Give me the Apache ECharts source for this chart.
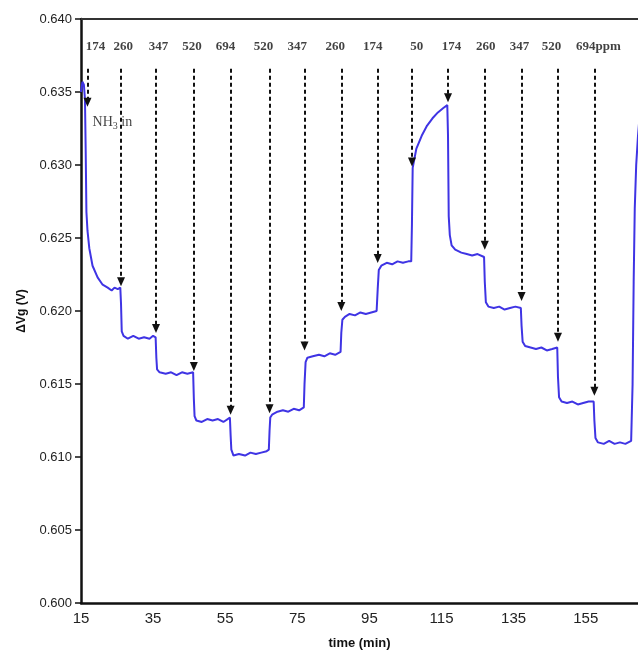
<!DOCTYPE html>
<html>
<head>
<meta charset="utf-8">
<script src="https://cdn.jsdelivr.net/npm/echarts@6/dist/echarts.min.js"></script>
<style>html,body{margin:0;padding:0;background:#fff}#c{width:638px;height:653px}</style>
</head>
<body>
<div id="c"></div>
<script>
// ---- data ----
const timeMin = [15.0,15.4,15.8,16.1,16.3,16.5,16.8,17.3,18.2,19.6,21.0,22.4,23.5,24.3,25.2,25.9,
26.1,26.3,26.8,28.0,29.5,31.0,32.5,34.0,35.0,35.7,
35.9,36.1,36.8,38.5,40.0,41.5,43.0,44.5,46.1,
46.3,46.5,47.0,48.5,50.0,51.5,53.0,54.5,56.3,
56.5,56.7,57.3,58.8,60.5,62.0,63.5,65.0,66.5,67.1,
67.3,67.5,68.0,69.5,71.0,72.5,74.0,75.5,76.8,
77.0,77.3,77.8,79.3,81.0,82.5,84.0,85.5,87.0,
87.2,87.5,88.2,89.5,91.0,92.5,94.0,95.5,97.0,
97.3,97.6,98.3,99.8,101.3,102.8,104.3,105.8,106.6,
106.8,107.0,108.0,109.5,111.0,112.5,114.0,115.5,116.6,
116.8,117.0,117.3,117.8,118.8,120.5,122.0,123.5,125.0,126.8,
127.0,127.3,128.0,129.5,131.0,132.5,134.0,135.5,137.0,
137.2,137.5,138.2,139.7,141.2,142.7,144.2,145.7,147.1,
147.3,147.6,148.3,149.8,151.3,152.8,154.3,155.8,157.2,
157.4,157.7,158.4,160.0,161.5,163.0,164.5,166.0,167.6,
168.0,168.3,168.6,169.0,169.5,170.0];
const deltaVg = [0.6350,0.6357,0.6355,0.6345,0.6310,0.6268,0.6255,0.6243,0.6231,0.6223,0.6218,0.6216,0.6214,0.6216,0.6215,0.6216,
0.6205,0.6186,0.6183,0.6181,0.6183,0.6181,0.6182,0.6181,0.6183,0.6182,
0.6168,0.6160,0.6158,0.6157,0.6158,0.6156,0.6158,0.6157,0.6158,
0.6140,0.6128,0.6125,0.6124,0.6126,0.6125,0.6126,0.6124,0.6127,
0.6115,0.6105,0.6101,0.6102,0.6101,0.6103,0.6102,0.6103,0.6104,0.6105,
0.6118,0.6127,0.6129,0.6131,0.6132,0.6131,0.6133,0.6132,0.6134,
0.6150,0.6165,0.6168,0.6169,0.6170,0.6169,0.6171,0.6170,0.6172,
0.6185,0.6194,0.6196,0.6198,0.6197,0.6199,0.6198,0.6199,0.6200,
0.6215,0.6228,0.6231,0.6233,0.6232,0.6234,0.6233,0.6234,0.6234,
0.6260,0.6298,0.6311,0.6320,0.6327,0.6332,0.6336,0.6339,0.6341,
0.6320,0.6265,0.6252,0.6245,0.6242,0.6240,0.6239,0.6238,0.6239,0.6237,
0.6220,0.6206,0.6203,0.6202,0.6203,0.6201,0.6202,0.6203,0.6202,
0.6190,0.6179,0.6176,0.6175,0.6174,0.6175,0.6173,0.6174,0.6175,
0.6155,0.6141,0.6138,0.6137,0.6138,0.6136,0.6137,0.6138,0.6138,
0.6125,0.6113,0.6110,0.6109,0.6111,0.6109,0.6110,0.6109,0.6111,
0.6150,0.6220,0.6270,0.6300,0.6320,0.6335];

const arrowTimes = [16.8,26.1,35.8,46.3,56.5,67.3,77.0,87.2,97.3,106.8,116.8,127.0,137.2,147.3,157.4];
const arrowTips  = [0.6343,0.6220,0.6188,0.6162,0.6132,0.6133,0.6176,0.6203,0.6236,0.6302,0.6346,0.6245,0.6210,0.6182,0.6145];
const ppmLabels  = ['174','260','347','520','694','520','347','260','174','50','174','260','347','520','694ppm'];
const labelTimes = [19.0,26.75,36.5,45.8,55.1,65.6,75.0,85.5,95.9,108.1,117.8,127.3,136.6,145.5,152.3];
const arrowTop = 0.6366;
const labelLevel = 0.6381;
const xTicks = [15,35,55,75,95,115,135,155];

const curve = timeMin.map((t,i)=>[t,deltaVg[i]]);
const arrowLines = arrowTimes.map((t,i)=>[{coord:[t,arrowTop]},{coord:[t,arrowTips[i]]}]);
const labelPts = labelTimes.map((t,i)=>{
  const last = i===labelTimes.length-1;
  return {value:[t,labelLevel], label: last ? {formatter:ppmLabels[i], align:'left'} : {formatter:ppmLabels[i]}};
});

const chart = echarts.init(document.getElementById('c'));
chart.setOption({
  animation:false,
  grid:{left:81,right:0,top:19,bottom:50,containLabel:false,outerBoundsMode:'none'},
  xAxis:[{
    type:'value',min:15,max:169.5,interval:20,
    axisLine:{show:true,onZero:false,lineStyle:{color:'#111',width:2.5}},
    axisTick:{show:false},
    splitLine:{show:false},
    axisLabel:{showMaxLabel:false,color:'#222',fontFamily:'Liberation Sans Narrow, Liberation Sans, Arial',fontSize:15,margin:8,
      formatter:v=>xTicks.includes(Math.round(v))?String(Math.round(v)):''},
    name:'time (min)',nameLocation:'middle',nameGap:34,nameMoveOverlap:false,
    nameTextStyle:{color:'#111',fontFamily:'Liberation Sans Narrow, Liberation Sans, Arial',fontWeight:'bold',fontSize:13}
  },{
    type:'value',position:'top',min:15,max:169.5,
    axisLine:{show:true,lineStyle:{color:'#333',width:2}},
    axisTick:{show:false},axisLabel:{show:false},splitLine:{show:false}
  }],
  yAxis:{
    type:'value',min:0.600,max:0.640,interval:0.005,
    axisLine:{show:true,lineStyle:{color:'#111',width:2.5}},
    axisTick:{show:true,length:6,lineStyle:{color:'#111',width:1.5}},
    splitLine:{show:false},
    axisLabel:{color:'#222',fontFamily:'Liberation Sans, Arial',fontSize:13,margin:9,formatter:v=>v.toFixed(3)},
    name:'ΔVg (V)',nameLocation:'middle',nameGap:53,nameRotate:90,nameMoveOverlap:false,
    nameTextStyle:{color:'#111',fontFamily:'Liberation Sans, Arial',fontWeight:'bold',fontSize:12}
  },
  series:[{
    type:'line',data:curve,showSymbol:false,symbol:'none',
    lineStyle:{color:'#3f34e4',width:2},
    clip:true,
    markLine:{
      silent:true,symbol:['none','triangle'],symbolSize:[8,9],
      lineStyle:{color:'#111',type:[4,3],width:2},
      label:{show:false},
      data:arrowLines
    }
  },{
    type:'scatter',data:labelPts,symbolSize:0,silent:true,
    label:{show:true,position:'inside',color:'#111',fontFamily:'Liberation Serif, Times New Roman',fontWeight:'bold',fontSize:13}
  },{
    type:'scatter',data:[[18.2,0.6329]],symbolSize:0,silent:true,
    label:{show:true,position:'inside',align:'left',formatter:'{a|NH}{s|3}{a| in}',
      rich:{a:{fontFamily:'Liberation Serif, Times New Roman',fontSize:14,color:'#111'},
            s:{fontFamily:'Liberation Serif, Times New Roman',fontSize:10,color:'#111',verticalAlign:'bottom',padding:[7,0,0,0]}}}
  }]
});
</script>
</body>
</html>
